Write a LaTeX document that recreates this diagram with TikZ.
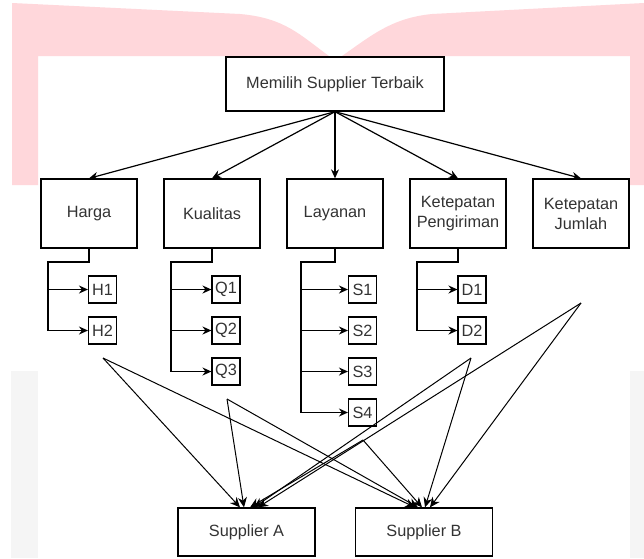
\documentclass[tikz,border=0pt]{standalone}
\usepackage{fontspec}
\setmainfont{Liberation Sans}
\usetikzlibrary{arrows.meta}
\definecolor{wmpink}{HTML}{FFD7DB}
\definecolor{wmgray}{HTML}{F5F5F5}
\definecolor{txtgray}{HTML}{333333}

\begin{document}
\begin{tikzpicture}[x=1pt,y=-1pt,node distance=123pt,
  box/.style={rectangle,draw,line width=1.3pt,inner sep=0pt,text=txtgray,align=center,font=\fontsize{16.3}{20}\selectfont},
  goal/.style={box,minimum width=218pt,minimum height=54pt},
  criteria/.style={box,minimum width=96pt,minimum height=69pt},
  subitem/.style={box,line width=1.1pt,minimum width=28pt,minimum height=27pt},
  supplier/.style={box,minimum width=137pt,minimum height=48pt},
  arr/.style={-{Stealth[length=9pt,width=8pt]},line width=1.2pt},
  link/.style={-{Stealth[length=10pt,width=9pt]},line width=1pt}]
  % Background
  \fill[white] (0,0) rectangle (644,558);
  \useasboundingbox (0,0) rectangle (644,558);
  \fill[wmpink] (12,3) -- (240,14) .. controls (285,18) and (300,35) .. (329,56)
    -- (342,56) .. controls (372,35) and (392,18) .. (432,14) -- (644,3)
    -- (644,185) -- (630,185) -- (630,56) -- (38,56) -- (38,185) -- (12,185) -- cycle;
  \fill[wmgray] (11,371) rectangle (38,558);
  \fill[wmgray] (630,371) rectangle (644,558);

  % Define nodes
  \node (goal) [goal] at (335,84) {Memilih Supplier Terbaik};
  \node (harga) [criteria] at (89,213.5) {Harga};
  \node (kualitas) [criteria,right of=harga] {Kualitas};
  \node (layanan) [criteria,right of=kualitas] {Layanan};
  \node (kirim) [criteria,right of=layanan] {Ketepatan\\Pengiriman};
  \node (jumlah) [criteria,right of=kirim] {Ketepatan\\Jumlah};

  \node (h1) [subitem] at (102.5,289.5) {H1};
  \node (h2) [subitem,below of=h1,node distance=41pt] {H2};
  \node (q1) [subitem] at (226,289.5) {Q1};
  \node (q2) [subitem,below of=q1,node distance=41pt] {Q2};
  \node (q3) [subitem,below of=q2,node distance=41pt] {Q3};
  \node (s1) [subitem] at (362.5,289.5) {S1};
  \node (s2) [subitem,below of=s1,node distance=41pt] {S2};
  \node (s3) [subitem,below of=s2,node distance=41pt] {S3};
  \node (s4) [subitem,below of=s3,node distance=41pt] {S4};
  \node (d1) [subitem] at (472,289.5) {D1};
  \node (d2) [subitem,below of=d1,node distance=41pt] {D2};

  \node (supA) [supplier] at (246.5,532) {Supplier A};
  \node (supB) [supplier,right of=supA,node distance=177.5pt] {Supplier B};

  % Draw edges
  \foreach \c in {harga,kualitas,layanan,kirim,jumlah}
    \draw [arr] (goal.south) -- (\c.north);

  \coordinate (hb) at (48,262);
  \coordinate (qb) at (171,262);
  \coordinate (sb) at (301,262);
  \coordinate (db) at (417,262);
  \draw [arr] (harga.south) |- (hb) |- (h1.west);
  \draw [arr] (hb) |- (h2.west);
  \draw [arr] (kualitas.south) |- (qb) |- (q1.west);
  \foreach \i in {q2,q3} \draw [arr] (qb) |- (\i.west);
  \draw [arr] (layanan.south) |- (sb) |- (s1.west);
  \foreach \i in {s2,s3,s4} \draw [arr] (sb) |- (\i.west);
  \draw [arr] (kirim.south) |- (db) |- (d1.west);
  \draw [arr] (db) |- (d2.west);

  \coordinate (pH) at (103,358);
  \coordinate (pQ) at (227,399);
  \coordinate (pS) at (363,440);
  \coordinate (pD) at (471,358);
  \coordinate (pJ) at (581,303);
  \foreach \p/\a/\b in {pH/-6.5/-9,pQ/-2.5/-6,pS/3.5/-2,pD/7.5/1,pJ/11.5/6} {
    \draw [link] (\p) -- ([xshift=\a pt]supA.north);
    \draw [link] (\p) -- ([xshift=\b pt]supB.north);
  }
\end{tikzpicture}
\end{document}
